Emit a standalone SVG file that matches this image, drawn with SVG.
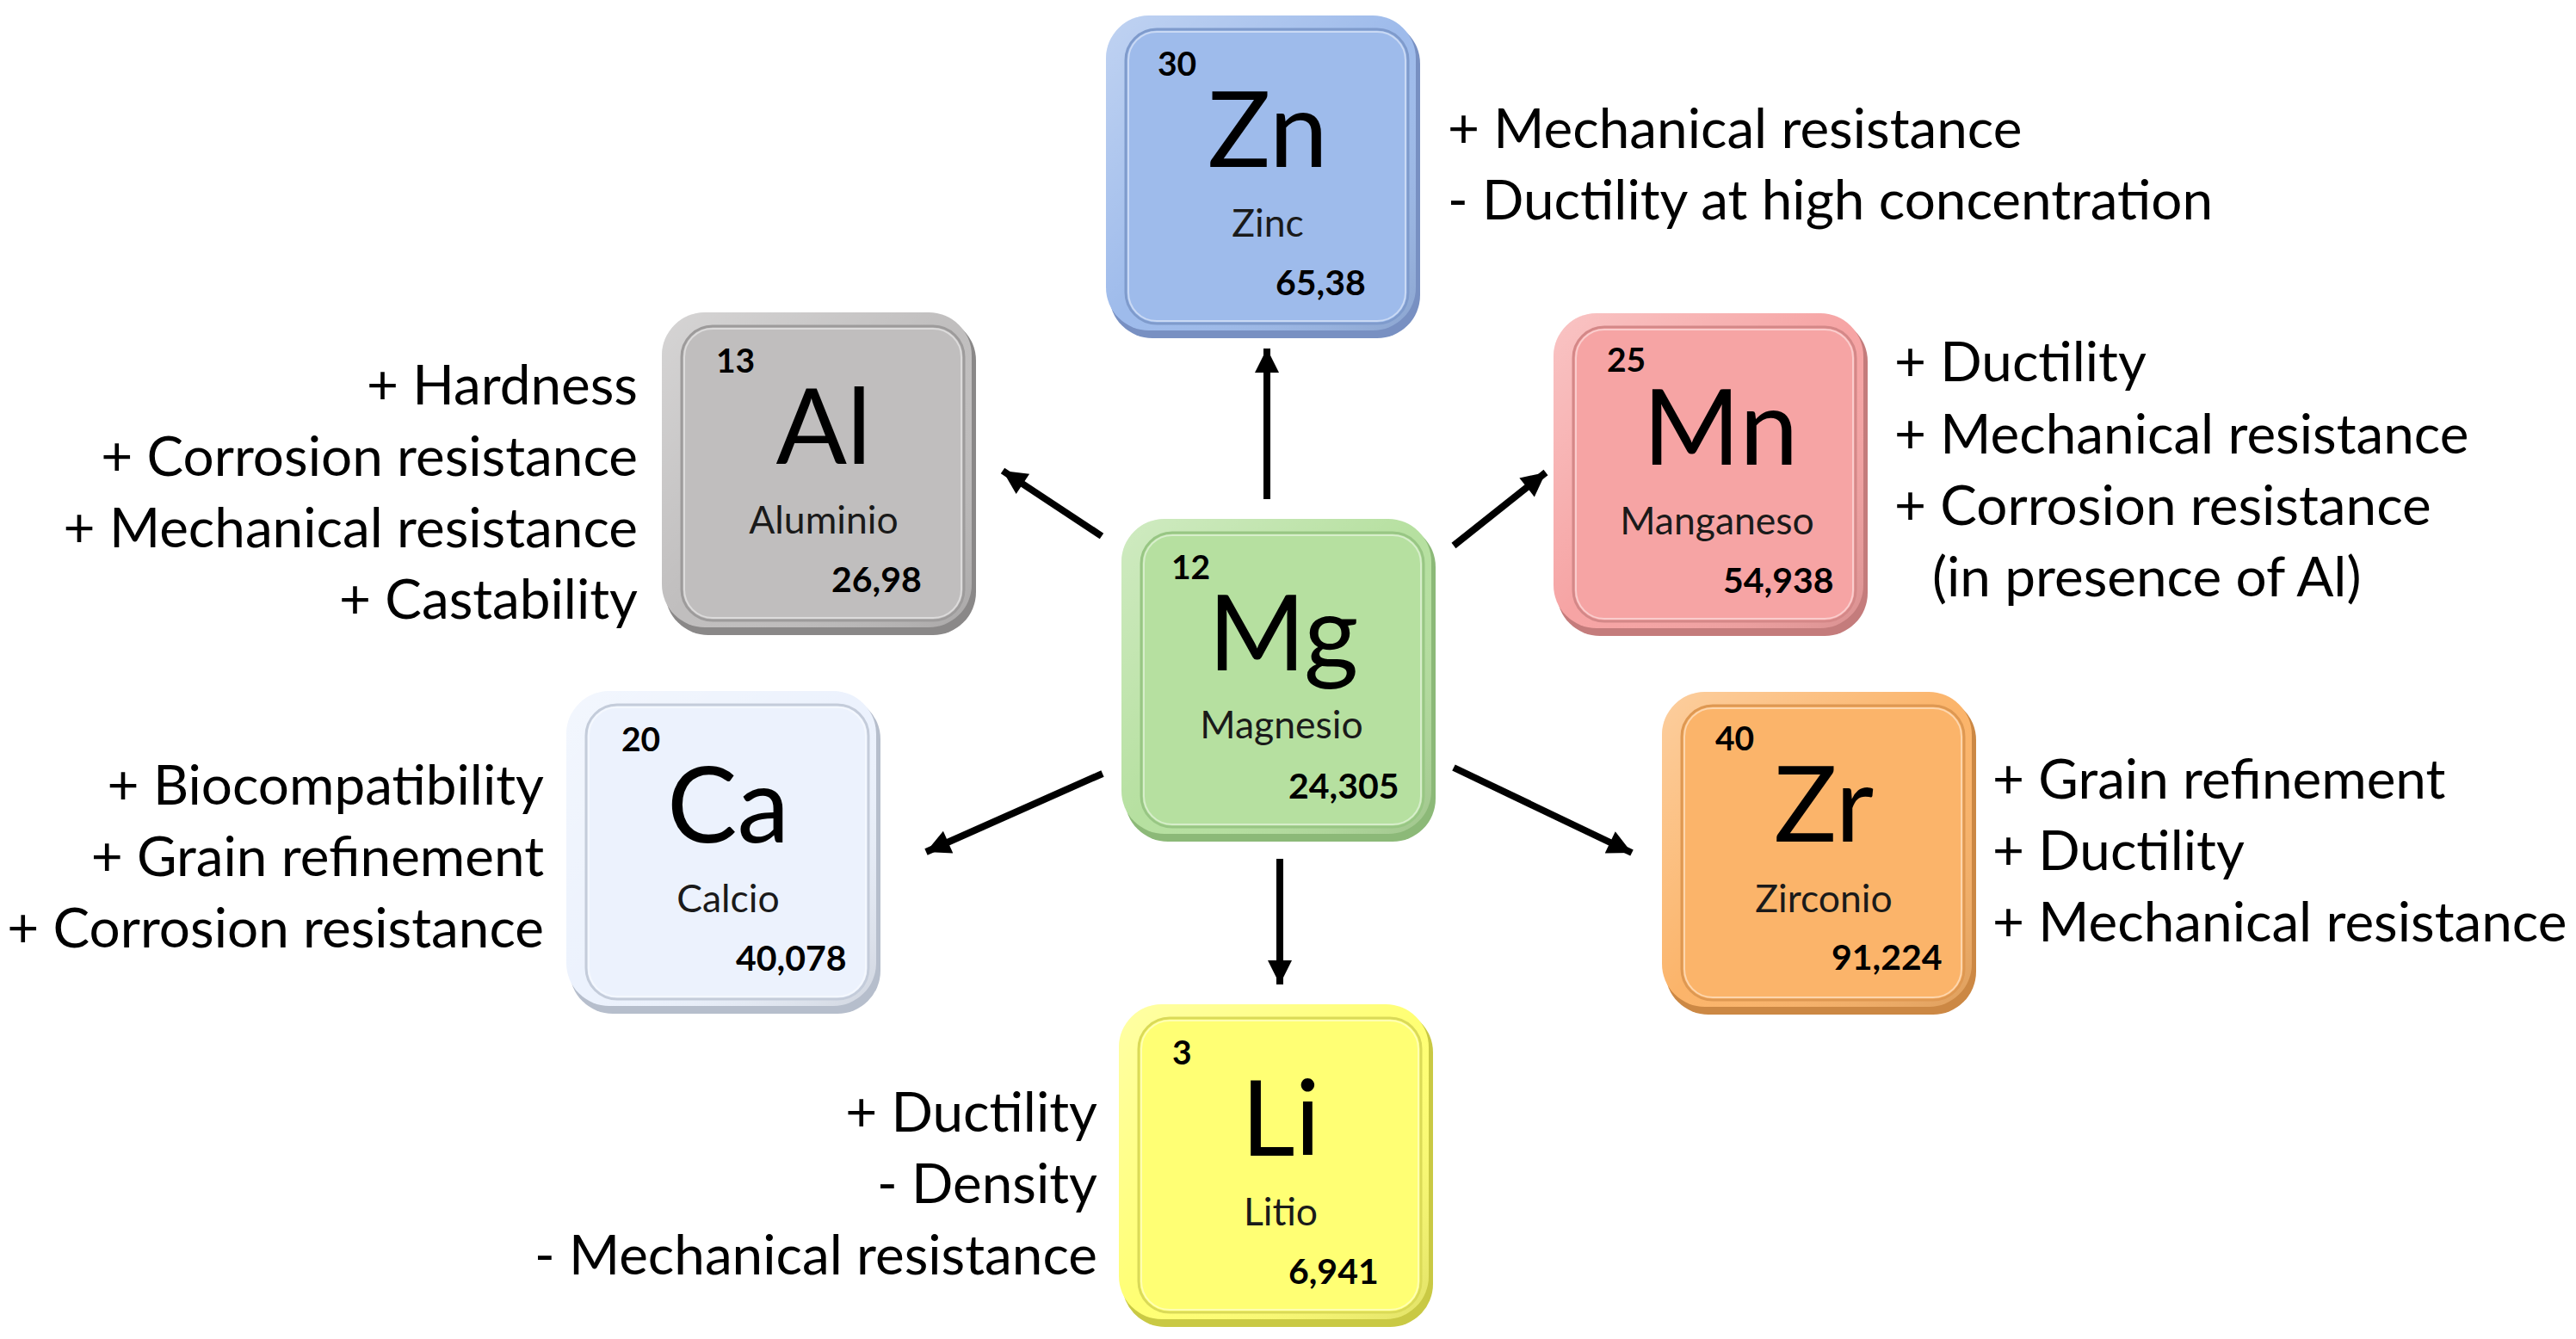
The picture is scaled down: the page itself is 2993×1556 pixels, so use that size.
<svg xmlns="http://www.w3.org/2000/svg" width="2993" height="1556" viewBox="0 0 2993 1556">
  <style>
    text { font-family: Lato, "Open Sans", "Liberation Sans", sans-serif; fill: #000; }
    .num { font-size: 39px; font-weight: 700; }
    .sym { font-size: 122px; text-anchor: middle; }
    .name { font-size: 44.5px; text-anchor: middle; fill: #1a1a1a; }
    .mass { font-size: 41px; font-weight: 700; }
    .prop { font-size: 63.8px; }
    .end { text-anchor: end; }
    .conn line { stroke: #000; stroke-width: 8; marker-end: url(#head); }
    .side { fill: var(--side); }
    .face { fill: var(--face); }
    .in { fill: var(--face); stroke: var(--line); stroke-width: 3; }
    .hl { fill: none; stroke: #fff; stroke-opacity: 0.45; stroke-width: 2; }
    .bev { fill: url(#bevel); }
    .zn { --side: #7890C2; --face: #9EBBEB; --line: #7F9BCC; }
    .al { --side: #8A8888; --face: #C0BEBE; --line: #9D9B9B; }
    .mn { --side: #C47C7C; --face: #F6A4A4; --line: #D48888; }
    .mg { --side: #8CB978; --face: #B6E0A0; --line: #98C684; }
    .ca { --side: #B6BECC; --face: #ECF2FD; --line: #C4CCDA; }
    .zr { --side: #CC8844; --face: #FBB46A; --line: #DE9852; }
    .li { --side: #C9C944; --face: #FFFF74; --line: #DADA58; }
  </style>
  <defs>
    <linearGradient id="bevel" x1="0" y1="0" x2="1" y2="1">
      <stop offset="0" stop-color="#fff" stop-opacity="0.35"/>
      <stop offset="0.5" stop-color="#fff" stop-opacity="0"/>
      <stop offset="1" stop-color="#000" stop-opacity="0.12"/>
    </linearGradient>
    <marker id="head" viewBox="0 0 10 10" refX="10" refY="5" markerWidth="32" markerHeight="28" markerUnits="userSpaceOnUse" orient="auto">
      <path d="M0,0 L10,5 L0,10 z" fill="#000"/>
    </marker>
    <g id="tile">
      <rect class="side" x="4" y="6" width="361" height="369" rx="50"/>
      <rect class="face" x="0" y="0" width="360" height="366" rx="50"/>
      <rect class="bev" x="0" y="0" width="360" height="366" rx="50"/>
      <rect class="in" x="23" y="16" width="328" height="342" rx="36"/>
      <rect class="hl" x="26" y="19" width="322" height="336" rx="33"/>
    </g>
  </defs>

  <rect x="0" y="0" width="2993" height="1556" fill="#fff"/>

  <g id="connectors" class="conn">
    <line x1="1472" y1="580" x2="1472" y2="405"/>
    <line x1="1280" y1="623" x2="1165" y2="547"/>
    <line x1="1689" y1="634" x2="1796" y2="549"/>
    <line x1="1281" y1="899" x2="1076" y2="990"/>
    <line x1="1689" y1="892" x2="1896" y2="991"/>
    <line x1="1487" y1="998" x2="1487" y2="1144"/>
  </g>

  <g id="node-zn" class="zn" transform="translate(1285,18)">
    <use href="#tile"/>
    <text class="num" x="60" y="70">30</text>
    <text class="sym" x="188" y="176">Zn</text>
    <text class="name" x="188" y="257">Zinc</text>
    <text class="mass" x="197" y="325">65,38</text>
  </g>
  <g id="node-al" class="al" transform="translate(769,363)">
    <use href="#tile"/>
    <text class="num" x="63" y="70">13</text>
    <text class="sym" x="188" y="176">Al</text>
    <text class="name" x="188" y="257">Aluminio</text>
    <text class="mass" x="197" y="325">26,98</text>
  </g>
  <g id="node-mn" class="mn" transform="translate(1805,364)">
    <use href="#tile"/>
    <text class="num" x="62" y="68">25</text>
    <text class="sym" x="194" y="176">Mn</text>
    <text class="name" x="190" y="257">Manganeso</text>
    <text class="mass" x="197" y="325">54,938</text>
  </g>
  <g id="node-mg" class="mg" transform="translate(1303,603)">
    <use href="#tile"/>
    <text class="num" x="58" y="70">12</text>
    <text class="sym" x="188" y="176">Mg</text>
    <text class="name" x="186" y="255">Magnesio</text>
    <text class="mass" x="194" y="325">24,305</text>
  </g>
  <g id="node-ca" class="ca" transform="translate(658,803)">
    <use href="#tile"/>
    <text class="num" x="64" y="70">20</text>
    <text class="sym" x="188" y="176">Ca</text>
    <text class="name" x="188" y="257">Calcio</text>
    <text class="mass" x="197" y="325">40,078</text>
  </g>
  <g id="node-zr" class="zr" transform="translate(1931,804)">
    <use href="#tile"/>
    <text class="num" x="62" y="68">40</text>
    <text class="sym" x="188" y="174">Zr</text>
    <text class="name" x="188" y="256">Zirconio</text>
    <text class="mass" x="197" y="323">91,224</text>
  </g>
  <g id="node-li" class="li" transform="translate(1300,1167)">
    <use href="#tile"/>
    <text class="num" x="62" y="70">3</text>
    <text class="sym" x="188" y="176">Li</text>
    <text class="name" x="188" y="257">Litio</text>
    <text class="mass" x="197" y="325">6,941</text>
  </g>

  <g id="props-zn">
    <text class="prop" x="1682" y="172">+ Mechanical resistance</text>
    <text class="prop" x="1682" y="255">- Ductility at high concentration</text>
  </g>
  <g id="props-al">
    <text class="prop end" x="741" y="470">+ Hardness</text>
    <text class="prop end" x="741" y="553">+ Corrosion resistance</text>
    <text class="prop end" x="741" y="636">+ Mechanical resistance</text>
    <text class="prop end" x="741" y="719">+ Castability</text>
  </g>
  <g id="props-mn">
    <text class="prop" x="2201" y="443">+ Ductility</text>
    <text class="prop" x="2201" y="527">+ Mechanical resistance</text>
    <text class="prop" x="2201" y="610">+ Corrosion resistance</text>
    <text class="prop" x="2245" y="693">(in presence of Al)</text>
  </g>
  <g id="props-ca">
    <text class="prop end" x="632" y="935">+ Biocompatibility</text>
    <text class="prop end" x="632" y="1018">+ Grain refinement</text>
    <text class="prop end" x="632" y="1101">+ Corrosion resistance</text>
  </g>
  <g id="props-zr">
    <text class="prop" x="2315" y="928">+ Grain refinement</text>
    <text class="prop" x="2315" y="1011">+ Ductility</text>
    <text class="prop" x="2315" y="1094">+ Mechanical resistance</text>
  </g>
  <g id="props-li">
    <text class="prop end" x="1275" y="1315">+ Ductility</text>
    <text class="prop end" x="1275" y="1398">- Density</text>
    <text class="prop end" x="1275" y="1481">- Mechanical resistance</text>
  </g>
</svg>
